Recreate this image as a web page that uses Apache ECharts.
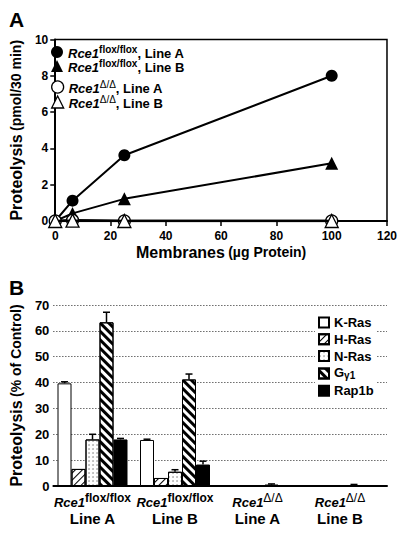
<!DOCTYPE html>
<html><head><meta charset="utf-8">
<script src="https://cdn.jsdelivr.net/npm/echarts@6/dist/echarts.min.js"></script>
<style>html,body{margin:0;padding:0;background:#fff}#c{width:400px;height:534px}</style>
</head><body><div id="c"></div>
<script>
// ---------- Panel A data ----------
const membranes = [0, 6.25, 25, 100];
const floxLineA = [0, 1.12, 3.62, 8.0];
const floxLineB = [0, 0.42, 1.22, 3.18];
const deltaLineA = [0, 0.04, 0.0, 0.0];
const deltaLineB = [0, 0.02, 0.0, 0.0];
const xTicksA = [0, 20, 40, 60, 80, 100, 120];
const yTicksA = [0, 2, 4, 6, 8, 10];
const seriesNamesA = ['floxA', 'floxB', 'deltaA', 'deltaB'];

// ---------- Panel B data ----------
const genotypes = ['flox/flox', 'flox/flox', 'Δ/Δ', 'Δ/Δ'];
const cellLines = ['Line A', 'Line B', 'Line A', 'Line B'];
const substrates = ['K-Ras', 'H-Ras', 'N-Ras', 'Gγ1', 'Rap1b'];
const kRas = [39.7, 17.8, 0.3, 0.2];
const hRas = [6.6, 3.1, 0.2, 0.2];
const nRas = [18.0, 5.5, 0.3, 0.2];
const gGamma1 = [63.3, 41.2, 0.5, 0.3];
const rap1b = [18.0, 8.3, 0.3, 0.3];
const kRasErr = [40.3, 18.1, null, null];
const hRasErr = [null, null, null, null];
const nRasErr = [20.0, 6.3, null, null];
const gGamma1Err = [67.2, 43.3, 0.8, 0.6];
const rap1bErr = [18.4, 9.6, null, null];
const yTicksB = [0, 10, 20, 30, 40, 50, 60, 70];

const FONT = 'Liberation Sans, Arial, Helvetica, sans-serif';
const chart = echarts.init(document.getElementById('c'), null, {renderer: 'svg'});

const barValues = [kRas, hRas, nRas, gGamma1, rap1b];
const barErrs = [kRasErr, hRasErr, nRasErr, gGamma1Err, rap1bErr];
const BAR_W = 14;

const legendRichA = {
  i: {fontFamily: FONT, fontSize: 13, fontWeight: 'bold', fontStyle: 'italic', color: '#000', lineHeight: 16, verticalAlign: 'bottom'},
  sup: {fontFamily: FONT, fontSize: 10, fontWeight: 'bold', color: '#000', lineHeight: 10, verticalAlign: 'top'},
  supd: {fontFamily: FONT, fontSize: 10, color: '#000', lineHeight: 10, verticalAlign: 'top'},
  n: {fontFamily: FONT, fontSize: 13, fontWeight: 'bold', color: '#000', lineHeight: 16, verticalAlign: 'bottom'}
};
const legendTextA = {
  floxA: '{i|Rce1}{sup|flox/flox}{n|, Line A}',
  floxB: '{i|Rce1}{sup|flox/flox}{n|, Line B}',
  deltaA: '{i|Rce1}{supd|Δ/Δ}{n|, Line A}',
  deltaB: '{i|Rce1}{supd|Δ/Δ}{n|, Line B}'
};
const openStyle = {color: '#fff', borderColor: '#000', borderWidth: 1.3};
const fillStyle = {color: '#000', borderColor: '#000', borderWidth: 0};
const legendIconsA = {floxA: 'circle', floxB: 'triangle', deltaA: 'circle', deltaB: 'triangle'};
const legendStylesA = {floxA: fillStyle, floxB: fillStyle, deltaA: openStyle, deltaB: openStyle};
const legendTopsA = [44, 58, 79, 94];

const decals = [
  null,
  {symbol: 'rect', symbolSize: 1, dashArrayX: [[1, 0]], dashArrayY: [1, 4], rotation: -Math.PI / 4, color: '#000'},
  {symbol: 'circle', symbolSize: 0.6, dashArrayX: [2, 1.5], dashArrayY: [2, 1.5], color: '#555'},
  {symbol: 'rect', symbolSize: 1, dashArrayX: [[1, 0]], dashArrayY: [2.2, 2.2], rotation: Math.PI / 4, color: '#000'},
  null
];
const barColors = ['#fff', '#fff', '#fff', '#fff', '#000'];

const barSeries = substrates.map((name, s) => ({
  name: name, type: 'bar', xAxisIndex: 2, yAxisIndex: 2,
  data: barValues[s], barWidth: BAR_W, barGap: '0%',
  itemStyle: {color: barColors[s], borderColor: '#000', borderWidth: 1, decal: decals[s] || undefined},
  z: 3
}));

const errData = [];
barErrs.forEach((arr, s) => arr.forEach((e, g) => { if (e !== null) errData.push([g, s, barValues[s][g], e]); }));

const axisLabelA = {fontFamily: FONT, fontSize: 12, fontWeight: 'bold', color: '#000'};

const legendsA = seriesNamesA.map((n, k) => ({
  orient: 'vertical', left: 51, top: legendTopsA[k], padding: 0, itemWidth: 12, itemHeight: 12,
  data: [{name: n, icon: legendIconsA[n], itemStyle: legendStylesA[n]}],
  formatter: nm => legendTextA[nm], textStyle: {rich: legendRichA}, selectedMode: false
}));

const option = {
  animation: false,
  backgroundColor: '#fff',
  title: [
    {text: 'A', left: 4, top: 4, textStyle: {fontFamily: FONT, fontSize: 21, fontWeight: 'bold', color: '#000'}},
    {text: 'B', left: 4, top: 272, textStyle: {fontFamily: FONT, fontSize: 21, fontWeight: 'bold', color: '#000'}}
  ],
  grid: [
    {left: 44, right: 12, top: 39.5, height: 181.5, show: true, borderColor: '#000', borderWidth: 1.5, backgroundColor: 'transparent'},
    {left: 43, right: 13, top: 305, height: 181},
    {left: 51.25, right: 18.75, top: 305, height: 181}
  ],
  xAxis: [
    {gridIndex: 0, type: 'value', min: xTicksA[0], max: xTicksA[xTicksA.length - 1], interval: 20,
     axisLine: {show: true, onZero: false, lineStyle: {color: '#000', width: 2}},
     axisTick: {show: true, length: 5, lineStyle: {color: '#000', width: 1.5}},
     axisLabel: Object.assign({margin: 9}, axisLabelA), splitLine: {show: false},
     name: '{a|Membranes} {b|(µg Protein)}', nameLocation: 'middle', nameGap: 23,
     nameTextStyle: {rich: {a: {fontFamily: FONT, fontSize: 16, fontWeight: 'bold', color: '#000'}, b: {fontFamily: FONT, fontSize: 14, fontWeight: 'bold', color: '#000'}}}},
    {gridIndex: 1, type: 'value', min: 0, max: 1, axisLine: {show: true, onZero: false, lineStyle: {color: '#000', width: 2}},
     axisTick: {show: false}, axisLabel: {show: false}, splitLine: {show: false}},
    {gridIndex: 2, type: 'category', data: genotypes.map((g, i) => g + '|' + cellLines[i]),
     axisLine: {show: false}, axisTick: {show: false},
     axisLabel: {margin: 6, interval: 0, align: 'center',
       formatter: function (v) {
         const parts = v.split('|');
         const sup = parts[0] === 'Δ/Δ' ? '{sd|Δ/Δ}' : '{s|flox/flox}';
         return '{i|Rce1}' + sup + '\n{l|' + parts[1] + '}';
       },
       rich: {
         i: {fontFamily: FONT, fontSize: 13, fontWeight: 'bold', fontStyle: 'italic', color: '#000', lineHeight: 17, verticalAlign: 'bottom'},
         s: {fontFamily: FONT, fontSize: 12, fontWeight: 'bold', color: '#000', lineHeight: 12, verticalAlign: 'top'},
         sd: {fontFamily: FONT, fontSize: 12, color: '#000', lineHeight: 12, verticalAlign: 'top'},
         l: {fontFamily: FONT, fontSize: 15, fontWeight: 'bold', color: '#000', lineHeight: 18}
       }}}
  ],
  yAxis: [
    {gridIndex: 0, type: 'value', min: yTicksA[0], max: yTicksA[yTicksA.length - 1], interval: 2,
     axisLine: {show: true, onZero: false, lineStyle: {color: '#000', width: 2}},
     axisTick: {show: true, length: 5, lineStyle: {color: '#000', width: 1.5}},
     axisLabel: Object.assign({margin: 7}, axisLabelA), splitLine: {show: false},
     name: '{a|Proteolysis} {b|(pmol/30 min)}', nameLocation: 'middle', nameGap: 24,
     nameTextStyle: {rich: {a: {fontFamily: FONT, fontSize: 16, fontWeight: 'bold', color: '#000'}, b: {fontFamily: FONT, fontSize: 14, fontWeight: 'bold', color: '#000'}}}},
    {gridIndex: 1, type: 'value', min: yTicksB[0], max: yTicksB[yTicksB.length - 1], interval: 10,
     axisLine: {show: false}, axisTick: {show: false},
     axisLabel: {margin: 4, fontFamily: FONT, fontSize: 13, fontWeight: 'bold', color: '#000'},
     splitLine: {show: true, lineStyle: {color: '#222', width: 1, type: [1, 2]}},
     name: '{a|Proteolysis} {b|(% of Control)}', nameLocation: 'middle', nameGap: 23,
     nameTextStyle: {rich: {a: {fontFamily: FONT, fontSize: 16, fontWeight: 'bold', color: '#000'}, b: {fontFamily: FONT, fontSize: 14, fontWeight: 'bold', color: '#000'}}}},
    {gridIndex: 2, type: 'value', min: yTicksB[0], max: yTicksB[yTicksB.length - 1], show: false}
  ],
  legend: [
    ...legendsA,
    {orient: 'vertical', left: 315, top: 314, itemWidth: 10, itemHeight: 10, itemGap: 3.8,
     backgroundColor: '#fff', padding: [2, 3, 2, 3],
     data: substrates.map(s => ({name: s, icon: 'rect'})), selectedMode: false,
     formatter: n => n === 'Gγ1' ? '{g|G}{s|γ1}' : '{t|' + n + '}',
     textStyle: {rich: {
       t: {fontFamily: FONT, fontSize: 13, fontWeight: 'bold', color: '#000', lineHeight: 14},
       g: {fontFamily: FONT, fontSize: 13, fontWeight: 'bold', color: '#000', lineHeight: 14, verticalAlign: 'top'},
       s: {fontFamily: FONT, fontSize: 10, fontWeight: 'bold', color: '#000', lineHeight: 10, verticalAlign: 'bottom', padding: [4, 0, 0, 0]}
     }}}
  ],
  series: [
    {name: 'floxA', type: 'line', xAxisIndex: 0, yAxisIndex: 0, data: membranes.map((x, i) => [x, floxLineA[i]]),
     symbol: 'circle', symbolSize: 12, lineStyle: {color: '#000', width: 2}, itemStyle: fillStyle, z: 3},
    {name: 'floxB', type: 'line', xAxisIndex: 0, yAxisIndex: 0, data: membranes.map((x, i) => [x, floxLineB[i]]),
     symbol: 'triangle', symbolSize: 13, lineStyle: {color: '#000', width: 2}, itemStyle: fillStyle, z: 3},
    {name: 'deltaA', type: 'line', xAxisIndex: 0, yAxisIndex: 0, data: membranes.map((x, i) => [x, deltaLineA[i]]),
     symbol: 'circle', symbolSize: 12, lineStyle: {color: '#000', width: 2.5}, itemStyle: openStyle, z: 4},
    {name: 'deltaB', type: 'line', xAxisIndex: 0, yAxisIndex: 0, data: membranes.map((x, i) => [x, deltaLineB[i]]),
     symbol: 'triangle', symbolSize: 13, lineStyle: {color: '#000', width: 2.5}, itemStyle: openStyle, z: 5},
    // empty series hosting the gridline axes of panel B
    {type: 'line', xAxisIndex: 1, yAxisIndex: 1, data: [], silent: true},
    ...barSeries,
    {type: 'custom', xAxisIndex: 2, yAxisIndex: 2, data: errData, z: 2, silent: true,
     renderItem: function (params, api) {
       const g = api.value(0), s = api.value(1);
       const base = api.coord([g, api.value(2)]);
       const top = api.coord([g, api.value(3)]);
       const x = base[0] + (s - 2) * BAR_W;
       return {type: 'group', children: [
         {type: 'line', shape: {x1: x, y1: base[1], x2: x, y2: top[1]}, style: {stroke: '#000', lineWidth: 1.5}},
         {type: 'line', shape: {x1: x - 3.5, y1: top[1], x2: x + 3.5, y2: top[1]}, style: {stroke: '#000', lineWidth: 1.5}}
       ]};
     }}
  ]
};
chart.setOption(option);
</script>
</body></html>
